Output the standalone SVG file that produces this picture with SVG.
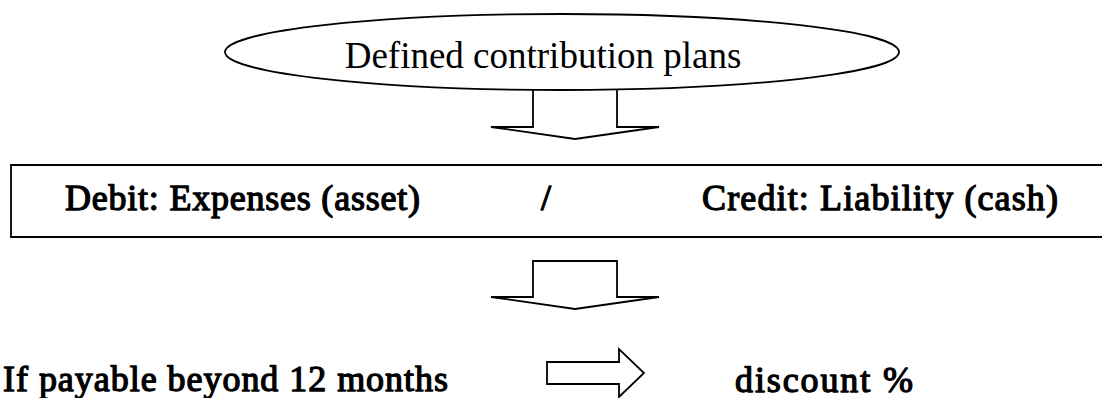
<svg xmlns="http://www.w3.org/2000/svg" width="1102" height="398" viewBox="0 0 1102 398">
  <style>
    .shape { fill: #ffffff; stroke: #000000; stroke-width: 1.8; stroke-linejoin: miter; }
    .plain { font-family: "Liberation Serif", "Times New Roman", serif; font-size: 37px; fill: #000000; }
    /* heavy serif labels: regular face thickened with a thin outline */
    .bold { font-family: "Liberation Serif", "Times New Roman", serif; font-size: 36px; font-weight: normal; fill: #000000; stroke: #000000; stroke-width: 1.3; stroke-linejoin: round; }
  </style>
  <rect width="1102" height="398" fill="#ffffff"/>

  <!-- Block arrows between the steps -->
  <g id="connectors">
    <path class="shape" d="M533,90 V127 H491 L575,139 L659,127 H617 V90"/>
    <path class="shape" d="M533,261 H617 V297 H659 L575,309 L491,297 H533 Z"/>
    <path class="shape" d="M547,362 H619 V349 L644,373 L619,397 V384 H547 Z"/>
  </g>

  <g id="plans">
    <ellipse class="shape" cx="562" cy="52" rx="337" ry="38"/>
    <text class="plain" x="543" y="68" text-anchor="middle">Defined contribution plans</text>
  </g>

  <g id="entry">
    <path class="shape" d="M1104,165 H11 V237 H1104"/>
    <text class="bold" x="65" y="210" textLength="355" lengthAdjust="spacing">Debit: Expenses (asset)</text>
    <text class="bold" x="541" y="210">/</text>
    <text class="bold" x="702" y="210" textLength="356" lengthAdjust="spacing">Credit: Liability (cash)</text>
  </g>

  <g id="condition">
    <text class="bold" x="3" y="391" textLength="445" lengthAdjust="spacing">If payable beyond 12 months</text>
  </g>

  <g id="result">
    <text class="bold" x="735" y="392" textLength="178" lengthAdjust="spacing">discount %</text>
  </g>
</svg>
